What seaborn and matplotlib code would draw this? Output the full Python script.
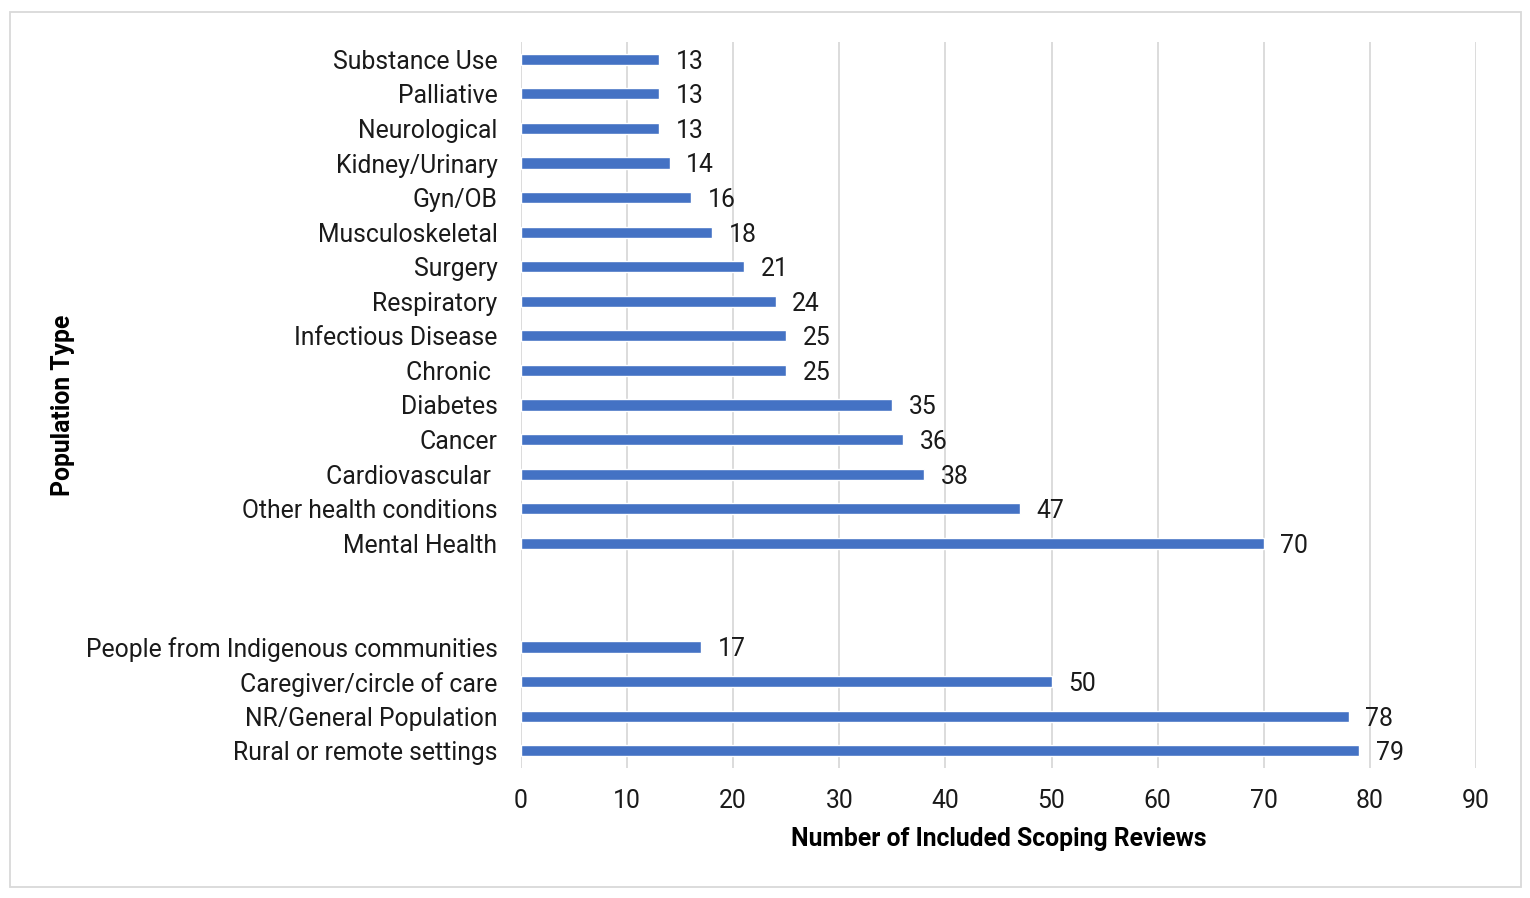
import matplotlib
matplotlib.use('Agg')
import matplotlib.pyplot as plt
from matplotlib.patches import Rectangle
import seaborn as sns
import pandas as pd

categories = ['Substance Use', 'Palliative', 'Neurological', 'Kidney/Urinary', 'Gyn/OB',
              'Musculoskeletal', 'Surgery', 'Respiratory', 'Infectious Disease', 'Chronic ',
              'Diabetes', 'Cancer', 'Cardiovascular ', 'Other health conditions', 'Mental Health',
              'People from Indigenous communities', 'Caregiver/circle of care',
              'NR/General Population', 'Rural or remote settings']
counts = [13, 13, 13, 14, 16, 18, 21, 24, 25, 25, 35, 36, 38, 47, 70, 17, 50, 78, 79]
# two empty slots separate the condition groups from the population groups
order = categories[:15] + ['', ' '] + categories[15:]

df = pd.DataFrame({'population': categories, 'n': counts})

sns.set_theme(style='white')
plt.rcParams['font.family'] = ['Roboto', 'DejaVu Sans']

fig = plt.figure(figsize=(15.3, 8.98), dpi=100)
ax = fig.add_axes([521 / 1530, 1 - 768 / 898, (1476 - 521) / 1530, (768 - 42) / 898])

sns.barplot(data=df, x='n', y='population', order=order, color='#4472C4',
            width=0.32, saturation=1, ax=ax, zorder=3)

for cont in ax.containers:
    anns = ax.bar_label(cont, labels=[f'{v:.0f}' if v == v else '' for v in cont.datavalues],
                        padding=12, fontsize=17.8, color='#1a1a1a')
    for a in anns:
        a.set_va('center_baseline')

ax.set_xlim(0, 90)
ax.set_xticks(range(0, 91, 10))
ax.grid(axis='x', color='#d9d9d9', linewidth=1.3, zorder=0)
ax.grid(axis='y', visible=False)
for s in ax.spines.values():
    s.set_visible(False)
ax.tick_params(axis='both', length=0, labelsize=17.8, labelcolor='#1a1a1a')
ax.tick_params(axis='y', pad=17)
ax.tick_params(axis='x', pad=15)

ax.set_xlabel('Number of Included Scoping Reviews', fontsize=17.8, fontweight='bold',
              color='black', labelpad=10)
ax.set_ylabel('Population Type', fontsize=17.8, fontweight='bold', color='black')
ax.yaxis.set_label_coords(-0.467, 0.5)

fig.patches.append(Rectangle((10 / 1530, 1 - 887 / 898), 1511 / 1530, 875 / 898,
                             transform=fig.transFigure, fill=False,
                             edgecolor='#d9d9d9', linewidth=1.3))

fig.savefig('out.png', dpi=100)
